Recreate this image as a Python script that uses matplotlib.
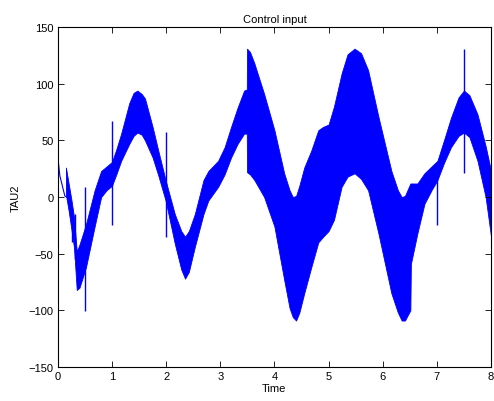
import numpy as np
import matplotlib
matplotlib.use('Agg')
import matplotlib.pyplot as plt

plt.rcParams['font.family'] = ['Liberation Sans', 'DejaVu Sans']

# thin start of the signal before the oscillation sets in
t_start = [0.0, 0.037, 0.13, 0.16]
v_start = [36, 19, 1, 0]

# envelope of the fast oscillation
t_env = [0.15, 0.2, 0.25, 0.3, 0.35, 0.4, 0.52, 0.68, 0.8, 0.9, 1.0, 1.08,
         1.17, 1.32, 1.4, 1.47, 1.55, 1.61, 1.75, 1.85, 1.99, 2.16, 2.28,
         2.35, 2.42, 2.53, 2.69, 2.78, 2.96, 3.08, 3.2, 3.32, 3.44, 3.49,
         3.495, 3.55, 3.63, 3.81, 4.0, 4.18, 4.28, 4.34, 4.4, 4.46, 4.55,
         4.68, 4.81, 4.9, 5.0, 5.1, 5.24, 5.35, 5.48, 5.6, 5.73, 5.92, 6.16,
         6.28, 6.35, 6.41, 6.51, 6.52, 6.64, 6.77, 6.9, 7.01, 7.13, 7.26,
         7.4, 7.5, 7.6, 7.75, 7.9, 8.0]
upper = [26, 12, -2, -18, -48, -42, -24, 6, 23, 27, 31, 42,
         56, 83, 92, 94, 91, 87, 62, 42, 15, -15, -30,
         -35, -30, -15, 15, 23, 32, 44, 62, 79, 94, 95,
         131, 128, 118, 91, 59, 21, 6, 0, 1, 10, 26,
         41, 59, 62, 64, 80, 109, 126, 131, 127, 112, 71, 23,
         6, 0, 1, 12, 12, 12, 21, 27, 32, 50, 70,
         88, 94, 90, 73, 45, 23]
lower = [2, -12, -28, -45, -82, -80, -62, -26, 0, 6, 10, 20,
         32, 47, 54, 57, 55, 50, 35, 20, -3, -41, -64,
         -72, -66, -44, -15, -3, 9, 20, 35, 47, 56, 56,
         22, 20, 15, 0, -26, -73, -98, -106, -109, -102, -85,
         -62, -40, -35, -30, -20, 9, 18, 21, 16, 6, -32, -85,
         -102, -109, -109, -100, -59, -32, -6, 6, 15, 30, 44,
         54, 57, 53, 32, 0, -35]

# isolated spikes: time, bottom, top
spike_t = [0.26, 0.31, 0.51, 1.0, 1.99, 7.0, 7.5]
spike_lo = [-40, -55, -101, -25, -35, -25, 21]
spike_hi = [-10, -15, 9, 67, 57, 26, 131]

fig = plt.figure(figsize=(4.94, 4.02), dpi=100)
ax = fig.add_axes([0.117, 0.0846, 0.877, 0.8454])

ax.plot(t_start, v_start, color='blue', lw=0.8)
ax.fill_between(t_env, lower, upper, color='blue', lw=0.6)
ax.vlines(spike_t, spike_lo, spike_hi, color='blue', lw=1.0)

ax.set_xlim(0, 8)
ax.set_ylim(-150, 150)
ax.set_xticks(range(0, 9))
ax.set_yticks(range(-150, 151, 50))
ax.tick_params(direction='in', length=4, width=0.6, labelsize=8,
               top=True, right=True, pad=3)
for s in ax.spines.values():
    s.set_linewidth(0.8)

ax.set_title('Control input', fontsize=8, pad=4)
ax.set_xlabel('Time', fontsize=8, labelpad=1)
ax.set_ylabel('TAU2', fontsize=8, labelpad=6)

fig.savefig('out.png', dpi=100)
